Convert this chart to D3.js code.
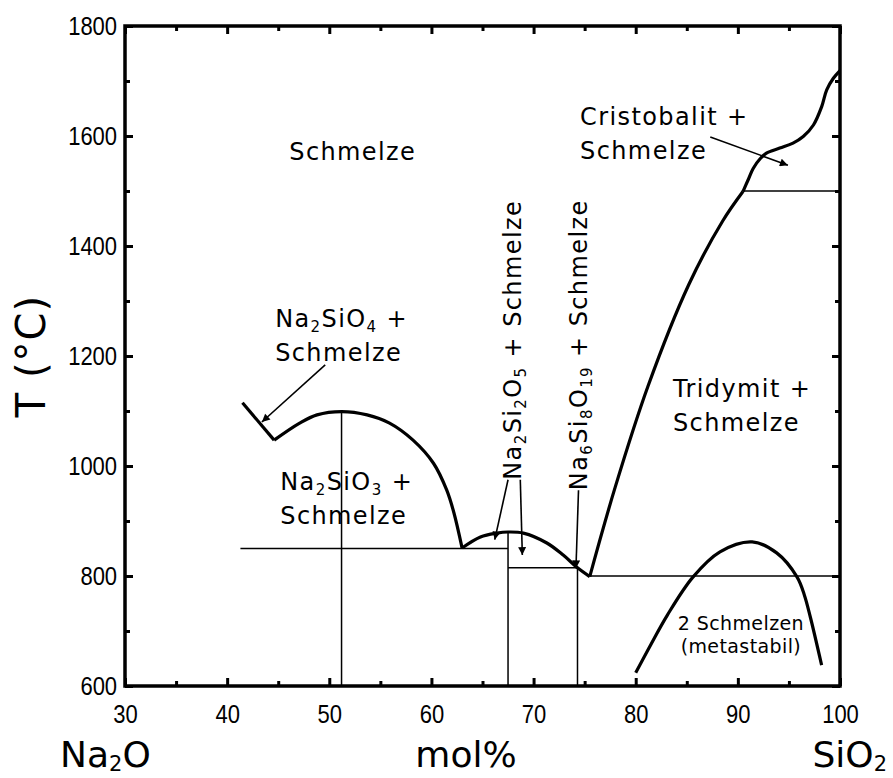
<!DOCTYPE html>
<html>
<head>
<meta charset="utf-8">
<script src="https://cdn.jsdelivr.net/npm/d3@7"></script>
<style>
  body { margin: 0; background: #fff; }
  svg { display: block; }
</style>
</head>
<body>
<svg id="chart" width="893" height="778"></svg>
<script>
// Na2O–SiO2 phase diagram (composition in mol% SiO2, temperature in °C)

const xMajorTicks = [30, 40, 50, 60, 70, 80, 90, 100];
const xMinorTicks = [35, 45, 55, 65, 75, 85, 95];
const yMajorTicks = [600, 800, 1000, 1200, 1400, 1600, 1800];
const yMinorTicks = [700, 900, 1100, 1300, 1500, 1700];

// Liquidus branches
const orthosilicateBranch = [[41.5, 1115], [44.6, 1047]];
const metasilicateDome = [[44.6, 1047], [47.1, 1078], [48.8, 1093], [51.2, 1099], [53.7, 1093],
  [55.9, 1078], [58.2, 1047], [60.2, 1005], [61.5, 956], [62.2, 915], [63.0, 851]];
const disilicateDome = [[63.0, 851], [64.8, 871], [66.4, 878], [67.5, 880], [69.0, 878],
  [71.3, 860], [72.9, 838], [74.3, 815], [75.5, 799]];
const tridymiteLiquidus = [[75.5, 799], [78.0, 962], [81.2, 1145], [85.2, 1330], [88.5, 1445], [90.5, 1499]];
const cristobaliteLiquidus = [[90.5, 1499], [91.0, 1520], [91.5, 1541], [92.2, 1559], [92.8, 1569],
  [94.1, 1578], [95.4, 1587], [96.4, 1599], [97.4, 1620], [98.2, 1653], [98.7, 1684],
  [99.35, 1705], [100, 1719]];
const miscibilityGap = [[80.0, 624], [81.5, 676], [83.1, 729], [85.6, 798], [88.25, 844], [91.4, 862],
  [93.8, 842], [95.8, 798], [96.5, 766], [97.1, 725], [98.2, 638]];

// Isotherms and compound lines
const tieLines = [
  [[41.3, 850], [67.5, 850]],
  [[51.2, 1099], [51.2, 600]],
  [[67.5, 880], [67.5, 600]],
  [[67.5, 815], [74.3, 815]],
  [[74.3, 815], [74.3, 600]],
  [[75.5, 800], [100, 800]],
  [[90.5, 1500], [100, 1500]]
];

// Leader arrows [from, to]
const arrows = [
  [[49.6, 1184], [43.4, 1080]],
  [[87.3, 1598], [94.9, 1547]],
  [[67.5, 975], [66.2, 866]],
  [[68.7, 975], [68.9, 838]],
  [[74.4, 956], [74.15, 814]]
];

// Field labels: anchor in data units, lines of text (_{..} = subscript)
const fieldLabels = [
  { x: 52.3, y: 1556, anchor: "middle", lines: ["Schmelze"] },
  { x: 44.7, y: 1253, anchor: "start", lines: ["Na_{2}SiO_{4} +", "Schmelze"] },
  { x: 45.2, y: 956, anchor: "start", lines: ["Na_{2}SiO_{3} +", "Schmelze"] },
  { x: 83.65, y: 1126, anchor: "start", lines: ["Tridymit +", "Schmelze"] },
  { x: 74.55, y: 1620, anchor: "start", lines: ["Cristobalit +", "Schmelze"] }
];
const verticalLabels = [
  { x: 68.77, y: 975, text: "Na_{2}Si_{2}O_{5} + Schmelze" },
  { x: 75.23, y: 956, text: "Na_{6}Si_{8}O_{19} + Schmelze" }
];
const gapLabel = { x: 90.3, y: 702, lines: ["2 Schmelzen", "(metastabil)"] };

const svg = d3.select("#chart");
const x = d3.scaleLinear().domain([30, 100]).range([125, 840]);
const y = d3.scaleLinear().domain([600, 1800]).range([686, 26]);

const LABEL_FONT = "'DejaVu Sans', Verdana, sans-serif";
const NUM_FONT = "'Liberation Sans', Arial, sans-serif";

svg.append("defs").append("clipPath").attr("id", "plotClip")
  .append("rect").attr("x", 125).attr("y", 26).attr("width", 715).attr("height", 660);

svg.select("defs").append("marker")
  .attr("id", "head").attr("viewBox", "0 0 10 10")
  .attr("refX", 10).attr("refY", 5)
  .attr("markerUnits", "userSpaceOnUse")
  .attr("markerWidth", 13).attr("markerHeight", 8)
  .attr("orient", "auto")
  .append("path").attr("d", "M0,0L10,5L0,10z").attr("fill", "#000");

// Axes with inward ticks
function styleAxis(g) {
  g.select(".domain").remove();
  g.selectAll(".tick line").attr("stroke", "#000").attr("stroke-width", 3);
}
function styleNums(g) {
  g.selectAll(".tick text")
    .attr("font-family", NUM_FONT).attr("font-size", 25).attr("fill", "#000")
    .attr("transform", "scale(0.88,1)");
}
const fmt = d3.format("d");

svg.append("g").attr("transform", "translate(0,686)")
  .call(d3.axisBottom(x).tickValues(xMajorTicks).tickSize(-8).tickPadding(19).tickFormat(fmt))
  .call(styleAxis).call(styleNums);
svg.append("g").attr("transform", "translate(0,686)")
  .call(d3.axisBottom(x).tickValues(xMinorTicks).tickSize(-5).tickFormat(""))
  .call(styleAxis);
svg.append("g").attr("transform", "translate(0,26)")
  .call(d3.axisTop(x).tickValues(xMajorTicks).tickSize(-8).tickFormat(""))
  .call(styleAxis);
svg.append("g").attr("transform", "translate(0,26)")
  .call(d3.axisTop(x).tickValues(xMinorTicks).tickSize(-5).tickFormat(""))
  .call(styleAxis);
svg.append("g").attr("transform", "translate(125,0)")
  .call(d3.axisLeft(y).tickValues(yMajorTicks).tickSize(-8).tickPadding(9).tickFormat(fmt))
  .call(styleAxis).call(styleNums);
svg.append("g").attr("transform", "translate(125,0)")
  .call(d3.axisLeft(y).tickValues(yMinorTicks).tickSize(-5).tickFormat(""))
  .call(styleAxis);
svg.append("g").attr("transform", "translate(840,0)")
  .call(d3.axisRight(y).tickValues(yMajorTicks).tickSize(-8).tickFormat(""))
  .call(styleAxis);
svg.append("g").attr("transform", "translate(840,0)")
  .call(d3.axisRight(y).tickValues(yMinorTicks).tickSize(-5).tickFormat(""))
  .call(styleAxis);

const plot = svg.append("g").attr("clip-path", "url(#plotClip)");

const straight = d3.line().x(d => x(d[0])).y(d => y(d[1]));
const smooth = d3.line().x(d => x(d[0])).y(d => y(d[1])).curve(d3.curveCatmullRom.alpha(0.5));

// Thin tie lines
plot.selectAll("path.tie").data(tieLines).join("path")
  .attr("class", "tie").attr("d", straight)
  .attr("fill", "none").attr("stroke", "#000").attr("stroke-width", 1.5);

// Thick phase boundaries
plot.append("path").attr("d", straight(orthosilicateBranch))
  .attr("fill", "none").attr("stroke", "#000").attr("stroke-width", 3.2);
[metasilicateDome, disilicateDome, tridymiteLiquidus, cristobaliteLiquidus, miscibilityGap].forEach(seg => {
  plot.append("path").attr("d", smooth(seg))
    .attr("fill", "none").attr("stroke", "#000").attr("stroke-width", 3.2)
    .attr("stroke-linejoin", "round");
});

// Leader arrows
svg.selectAll("line.arrow").data(arrows).join("line")
  .attr("class", "arrow")
  .attr("x1", d => x(d[0][0])).attr("y1", d => y(d[0][1]))
  .attr("x2", d => x(d[1][0])).attr("y2", d => y(d[1][1]))
  .attr("stroke", "#000").attr("stroke-width", 1.6)
  .attr("marker-end", "url(#head)");

// Frame
svg.append("rect").attr("x", 125).attr("y", 26).attr("width", 715).attr("height", 660)
  .attr("fill", "none").attr("stroke", "#000").attr("stroke-width", 3.5);

// Text with subscripts
function addRich(textSel, str, subSize, shift) {
  const parts = str.split(/(_\{[^}]*\})/).filter(s => s.length);
  let pending = 0;
  parts.forEach(p => {
    if (p.startsWith("_{")) {
      textSel.append("tspan").attr("font-size", subSize).attr("dy", shift - pending).text(p.slice(2, -1));
      pending = shift;
    } else {
      textSel.append("tspan").attr("dy", -pending).text(p);
      pending = 0;
    }
  });
}

const LINE_GAP = 34;
fieldLabels.forEach(lab => {
  lab.lines.forEach((ln, i) => {
    const t = svg.append("text")
      .attr("x", x(lab.x)).attr("y", y(lab.y) + i * LINE_GAP)
      .attr("text-anchor", lab.anchor)
      .attr("font-family", LABEL_FONT).attr("font-size", 24)
      .attr("letter-spacing", 1.4).attr("fill", "#000");
    addRich(t, ln, 15, 5);
  });
});

verticalLabels.forEach(lab => {
  const t = svg.append("text")
    .attr("transform", `translate(${x(lab.x)},${y(lab.y)}) rotate(-90)`)
    .attr("text-anchor", "start")
    .attr("font-family", LABEL_FONT).attr("font-size", 24)
    .attr("letter-spacing", 1.4).attr("fill", "#000");
  addRich(t, lab.text, 15, 5);
});

gapLabel.lines.forEach((ln, i) => {
  svg.append("text")
    .attr("x", x(gapLabel.x)).attr("y", y(gapLabel.y) + i * 23)
    .attr("text-anchor", "middle")
    .attr("font-family", LABEL_FONT).attr("font-size", 19)
    .attr("letter-spacing", 0.4).attr("fill", "#000").text(ln);
});

// Axis titles
svg.append("text")
  .attr("transform", "translate(45,356) rotate(-90)")
  .attr("text-anchor", "middle")
  .attr("font-family", LABEL_FONT).attr("font-size", 40)
  .attr("letter-spacing", 1).attr("fill", "#000").text("T (°C)");

function axisWord(str, px, anchor) {
  const t = svg.append("text").attr("x", px).attr("y", 767)
    .attr("text-anchor", anchor)
    .attr("font-family", LABEL_FONT).attr("font-size", 36).attr("fill", "#000");
  addRich(t, str, 21, 4);
}
axisWord("Na_{2}O", 60, "start");
axisWord("mol%", 466, "middle");
axisWord("SiO_{2}", 887, "end");
</script>
</body>
</html>
